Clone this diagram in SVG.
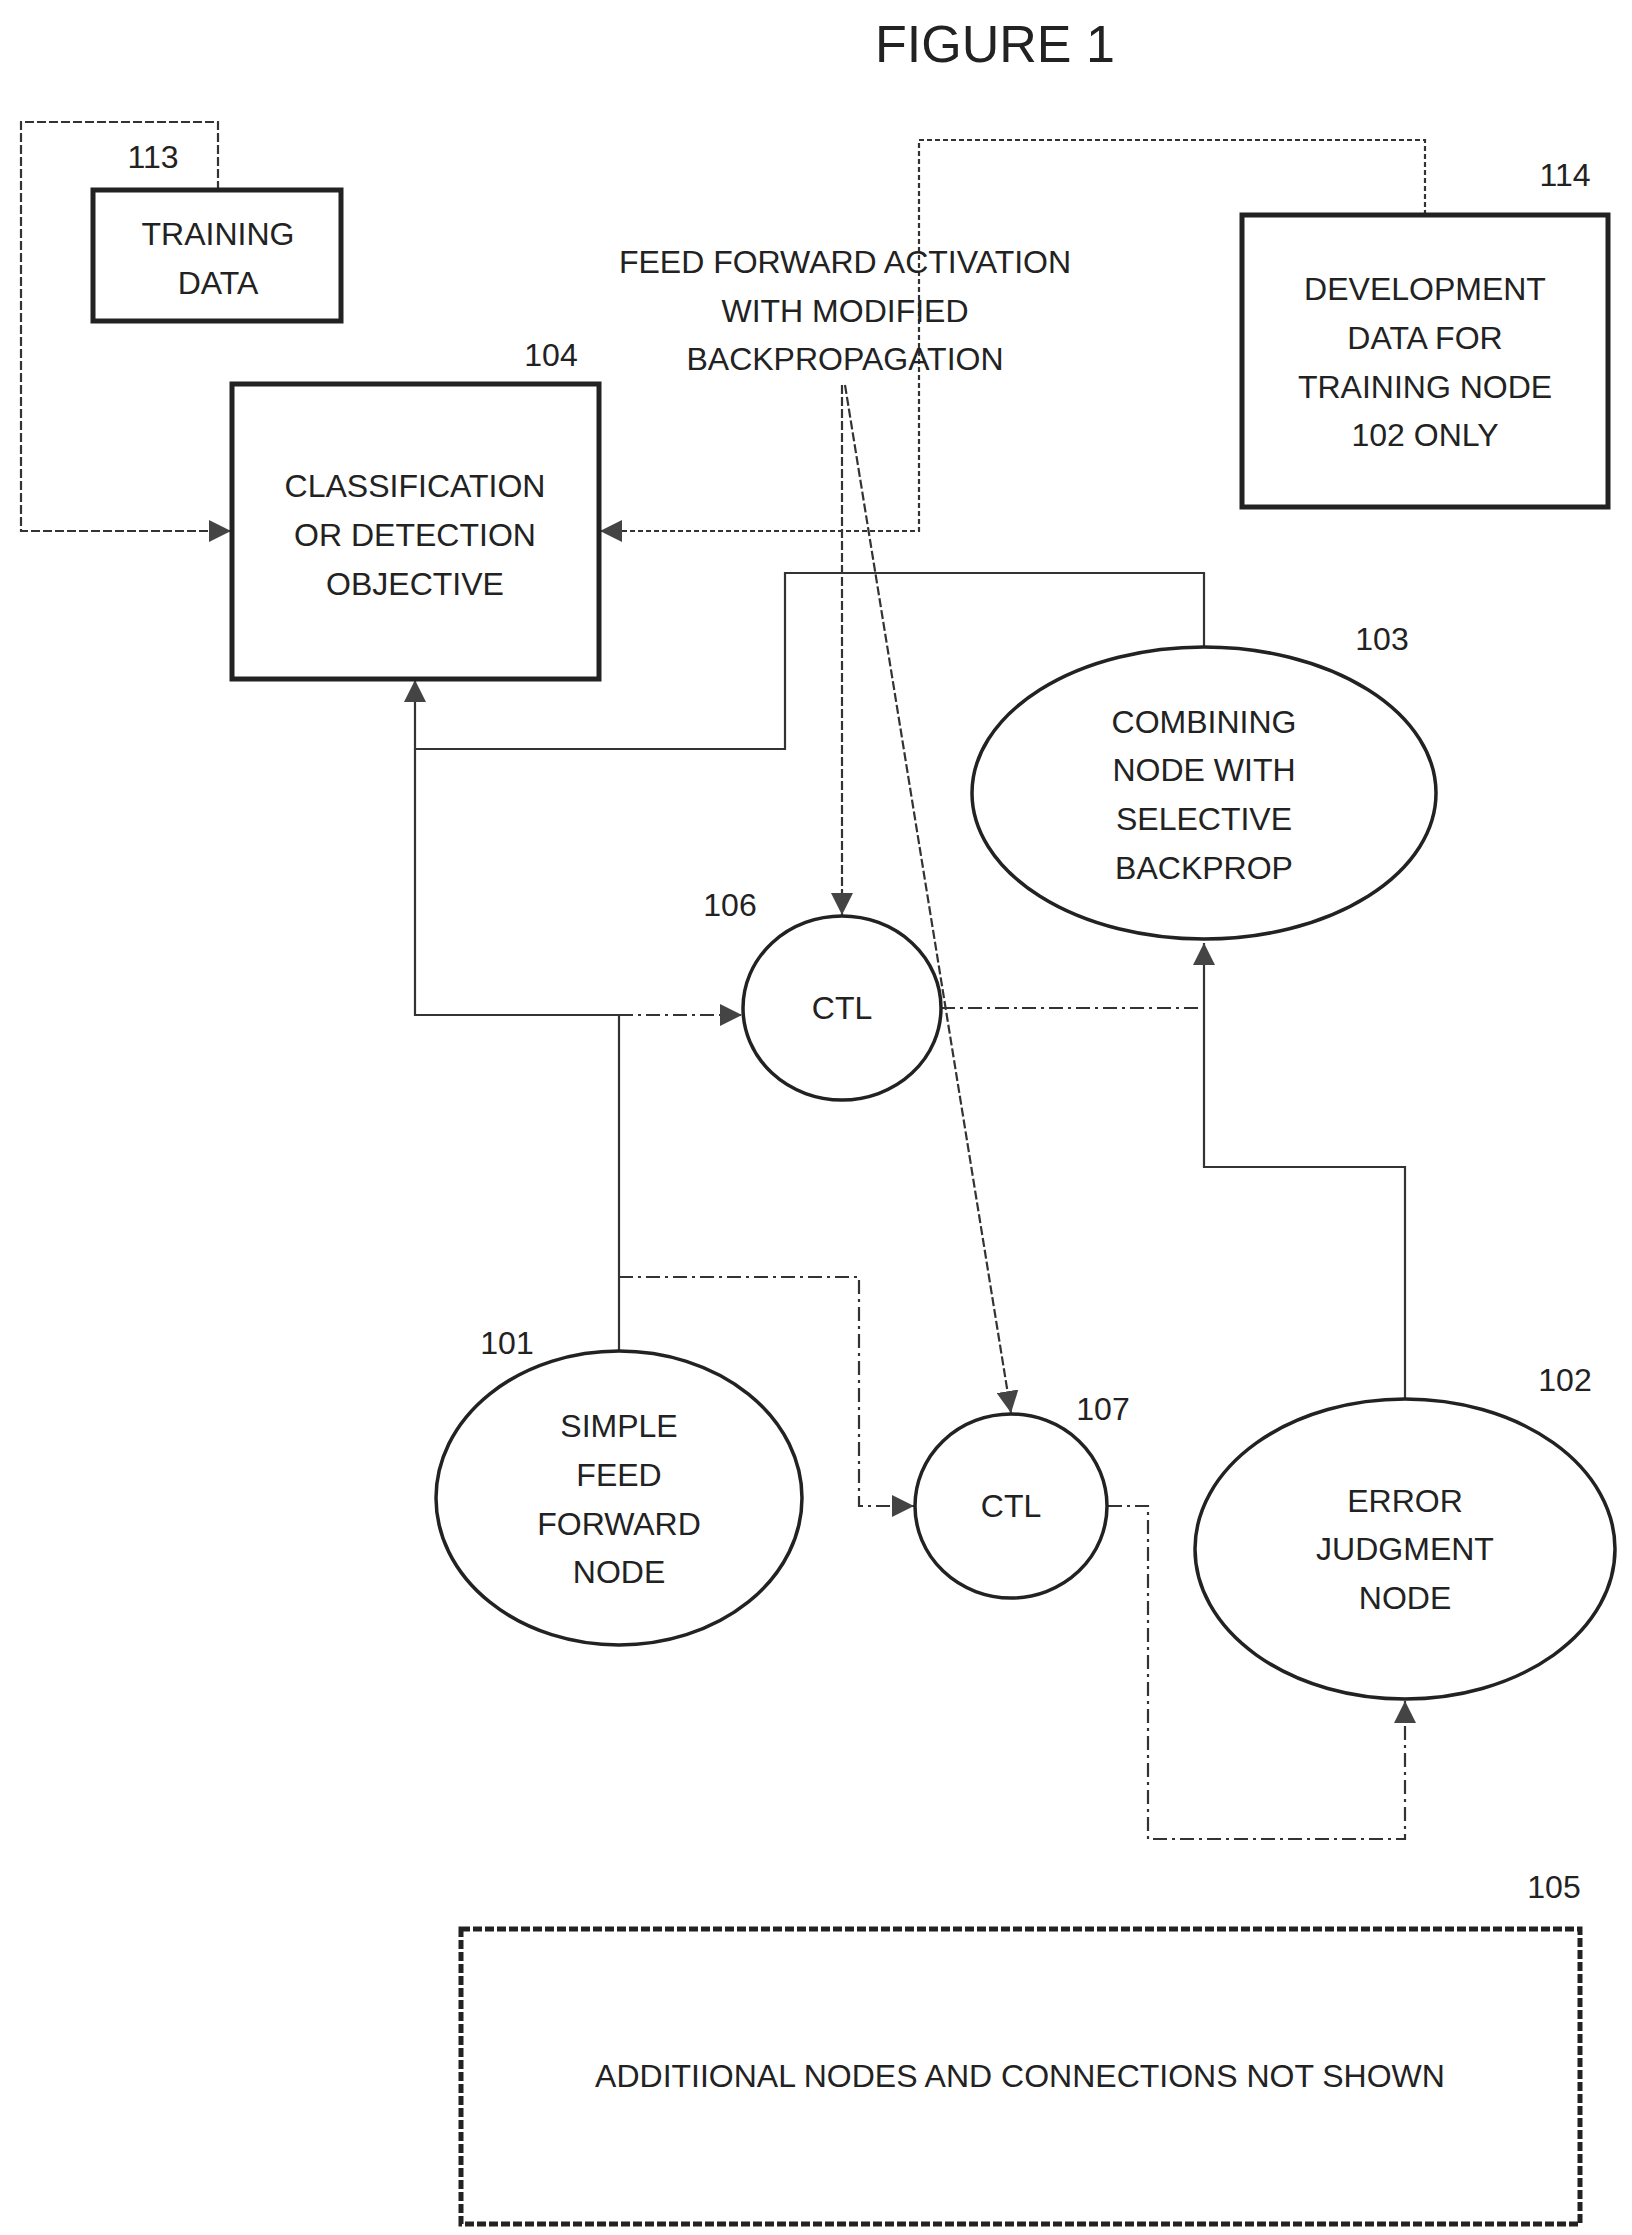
<svg xmlns="http://www.w3.org/2000/svg" width="1632" height="2235" viewBox="0 0 1632 2235">
<style>
text{font-family:"Liberation Sans",Arial,sans-serif;font-size:32px;fill:#222;text-anchor:middle}
.box{fill:none;stroke:#222;stroke-width:5}
.ell{fill:none;stroke:#222;stroke-width:3.5}
.c{fill:none;stroke:#333;stroke-width:2.2}
.dash{stroke-dasharray:9 3}
.dot{stroke-dasharray:5 3}
.dd{stroke-dasharray:14 5 3 5}
</style>
<defs>
<marker id="a" viewBox="0 0 10 10" refX="10" refY="5" markerWidth="8" markerHeight="8" markerUnits="userSpaceOnUse" orient="auto"><path d="M0,0L10,5L0,10Z" fill="#444"/></marker>
<marker id="b" viewBox="0 0 10 10" refX="10" refY="5" markerWidth="22" markerHeight="22" markerUnits="userSpaceOnUse" orient="auto"><path d="M0,0L10,5L0,10Z" fill="#444"/></marker>
</defs>
<text x="995" y="62" style="font-size:52px">FIGURE 1</text>
<g id="connectors">
<path class="c dash" d="M218,190V122H21V531H231" marker-end="url(#b)"/>
<path class="c dot" d="M1425,215V140H919V531H600" marker-end="url(#b)"/>
<path class="c" d="M1204,647V573H785V749H415V680" marker-end="url(#b)"/>
<path class="c" d="M619,1350V1015H415V749"/>
<path class="c dd" d="M619,1015H742" marker-end="url(#b)"/>
<path class="c dd" d="M941,1008H1204"/>
<path class="c" d="M1405,1399V1167H1204V943" marker-end="url(#b)"/>
<path class="c dd" d="M619,1277H859V1506H914" marker-end="url(#b)"/>
<path class="c dd" d="M1108,1506H1148V1839H1405V1701" marker-end="url(#b)"/>
<path class="c dash" d="M842,385V915" marker-end="url(#b)"/>
<path class="c dash" d="M845,385L1011,1413" marker-end="url(#b)"/>
</g>
<g id="n113"><rect class="box" x="93" y="190" width="248" height="131"/><text x="153" y="168">113</text><text x="218" y="245">TRAINING</text><text x="218" y="294">DATA</text></g>
<g id="n104"><rect class="box" x="232" y="384" width="367" height="295"/><text x="551" y="366">104</text><text x="415" y="497">CLASSIFICATION</text><text x="415" y="546">OR DETECTION</text><text x="415" y="595">OBJECTIVE</text></g>
<g id="label"><text x="845" y="273">FEED FORWARD ACTIVATION</text><text x="845" y="322">WITH MODIFIED</text><text x="845" y="370">BACKPROPAGATION</text></g>
<g id="n114"><rect class="box" x="1242" y="215" width="366" height="292"/><text x="1565" y="186">114</text><text x="1425" y="300">DEVELOPMENT</text><text x="1425" y="349">DATA FOR</text><text x="1425" y="398">TRAINING NODE</text><text x="1425" y="446">102 ONLY</text></g>
<g id="n103"><ellipse class="ell" cx="1204" cy="793" rx="232" ry="146"/><text x="1382" y="650">103</text><text x="1204" y="733">COMBINING</text><text x="1204" y="781">NODE WITH</text><text x="1204" y="830">SELECTIVE</text><text x="1204" y="879">BACKPROP</text></g>
<g id="n106"><ellipse class="ell" cx="842" cy="1008" rx="99" ry="92"/><text x="730" y="916">106</text><text x="842" y="1019">CTL</text></g>
<g id="n107"><ellipse class="ell" cx="1011" cy="1506" rx="96" ry="92"/><text x="1103" y="1420">107</text><text x="1011" y="1517">CTL</text></g>
<g id="n101"><ellipse class="ell" cx="619" cy="1498" rx="183" ry="147"/><text x="507" y="1354">101</text><text x="619" y="1437">SIMPLE</text><text x="619" y="1486">FEED</text><text x="619" y="1535">FORWARD</text><text x="619" y="1583">NODE</text></g>
<g id="n102"><ellipse class="ell" cx="1405" cy="1549" rx="210" ry="150"/><text x="1565" y="1391">102</text><text x="1405" y="1512">ERROR</text><text x="1405" y="1560">JUDGMENT</text><text x="1405" y="1609">NODE</text></g>
<g id="n105"><rect class="box dash" x="461" y="1929" width="1119" height="295"/><text x="1554" y="1898">105</text><text x="1020" y="2087">ADDITIIONAL NODES AND CONNECTIONS NOT SHOWN</text></g>
</svg>
